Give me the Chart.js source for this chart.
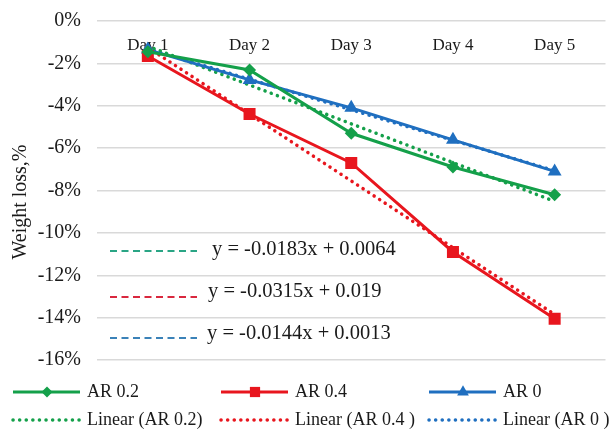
<!DOCTYPE html>
<html>
<head>
<meta charset="utf-8">
<script src="https://cdn.jsdelivr.net/npm/chart.js@4.4.1/dist/chart.umd.min.js"></script>
<style>
  html, body { margin: 0; padding: 0; background: #fff; }
</style>
</head>
<body>
<canvas id="chart" width="614" height="431"></canvas>
<script>
// Weight loss per day, values in %
const days = ['Day 1', 'Day 2', 'Day 3', 'Day 4', 'Day 5'];
const ar02 = [-1.45, -2.31, -5.3, -6.89, -8.2];
const ar04 = [-1.65, -4.39, -6.7, -10.9, -14.05];
const ar0 = [-1.35, -2.78, -4.1, -5.61, -7.1];
// linear trendlines
const trend02 = [-1.19, -3.02, -4.85, -6.68, -8.51];
const trend04 = [-1.25, -4.40, -7.55, -10.70, -13.85];
const trend0 = [-1.31, -2.75, -4.19, -5.63, -7.07];
const yMin = -16;
const yMax = 0;
const yStep = 2;
const equations = ['y = -0.0183x + 0.0064', 'y = -0.0315x + 0.019', 'y = -0.0144x + 0.0013'];
const yTitle = 'Weight loss,%';

const GREEN = '#14a04a';
const RED = '#e8161e';
const BLUE = '#1f6fc0';
const SERIF = '"Liberation Serif", "Times New Roman", serif';

function solid(label, data, color, style, radius) {
    return {
        label: label, data: data, borderColor: color, backgroundColor: color,
        borderWidth: 3, pointStyle: style, pointRadius: radius, pointBorderWidth: 0,
        pointBackgroundColor: color, tension: 0, order: 1
    };
}
function dotted(label, data, color) {
    return {
        label: label, data: data, borderColor: color, backgroundColor: color,
        borderWidth: 3.5, borderDash: [0.1, 6.5], borderCapStyle: 'round',
        pointRadius: 0, tension: 0, order: 2
    };
}

// equations text + legend drawn by hand (Excel style layout)
const overlay = {
    id: 'overlay',
    afterDraw(chart) {
        const ctx = chart.ctx;
        ctx.save();

        // y axis title
        ctx.save();
        ctx.translate(21, 202);
        ctx.rotate(-Math.PI / 2);
        ctx.font = '20px ' + SERIF;
        ctx.fillStyle = '#1a1a1a';
        ctx.textAlign = 'center';
        ctx.textBaseline = 'middle';
        ctx.fillText(yTitle, 0, 0);
        ctx.restore();

        // trendline equations
        const eqColors = ['#2aa585', '#d9283e', '#3b82b8'];
        const eqLineY = [251, 297, 338];
        const eqTextY = [250, 292, 334];
        const eqTextX = [212, 208, 207];
        ctx.lineWidth = 2;
        ctx.setLineDash([7, 4.5]);
        ctx.font = '20.5px ' + SERIF;
        ctx.textBaseline = 'middle';
        ctx.textAlign = 'left';
        for (let i = 0; i < equations.length; i++) {
            ctx.strokeStyle = eqColors[i];
            ctx.beginPath();
            ctx.moveTo(110, eqLineY[i]);
            ctx.lineTo(197, eqLineY[i]);
            ctx.stroke();
            ctx.fillStyle = '#1a1a1a';
            ctx.fillText(equations[i], eqTextX[i], eqTextY[i]);
        }
        ctx.setLineDash([]);

        // legend, 3 columns x 2 rows
        const colX = [13, 221, 429];
        const rowY = [392, 420];
        ctx.font = '18px ' + SERIF;
        chart.data.datasets.forEach((ds, i) => {
            const x = colX[i % 3];
            const y = rowY[Math.floor(i / 3)];
            ctx.strokeStyle = ds.borderColor;
            ctx.fillStyle = ds.borderColor;
            ctx.lineWidth = ds.borderWidth;
            ctx.lineCap = ds.borderCapStyle || 'butt';
            ctx.setLineDash(ds.borderDash || []);
            ctx.beginPath();
            ctx.moveTo(x, y);
            ctx.lineTo(x + 67, y);
            ctx.stroke();
            ctx.setLineDash([]);
            ctx.lineCap = 'butt';
            if (ds.pointRadius > 0) {
                Chart.helpers.drawPoint(ctx, {
                    pointStyle: ds.pointStyle, radius: ds.pointRadius * 0.85,
                    rotation: 0, borderWidth: 0
                }, x + 34, y);
            }
            ctx.fillStyle = '#1a1a1a';
            ctx.textBaseline = 'middle';
            ctx.fillText(ds.label, x + 74, y);
        });
        ctx.restore();
    }
};

new Chart(document.getElementById('chart'), {
    type: 'line',
    data: {
        labels: days,
        datasets: [
            solid('AR 0.2', ar02, GREEN, 'rectRot', 6.5),
            solid('AR 0.4', ar04, RED, 'rect', 8.5),
            solid('AR 0', ar0, BLUE, 'triangle', 8),
            dotted('Linear (AR 0.2)', trend02, GREEN),
            dotted('Linear (AR 0.4 )', trend04, RED),
            dotted('Linear (AR 0 )', trend0, BLUE)
        ]
    },
    options: {
        responsive: false,
        animation: false,
        devicePixelRatio: 1,
        layout: { padding: { top: 21, right: 6, bottom: 71, left: 0 } },
        plugins: {
            legend: { display: false },
            tooltip: { enabled: false }
        },
        scales: {
            x: {
                type: 'category',
                offset: true,
                position: { y: 0 },
                grid: { display: false },
                border: { display: false },
                ticks: {
                    color: '#1a1a1a',
                    padding: 6,
                    maxRotation: 0,
                    font: { family: SERIF, size: 17 }
                }
            },
            y: {
                min: yMin,
                max: yMax,
                grid: { color: '#d9d9d9', lineWidth: 1.5, drawTicks: false },
                border: { display: false },
                ticks: {
                    stepSize: yStep,
                    padding: 16,
                    color: '#1a1a1a',
                    font: { family: SERIF, size: 20 },
                    callback: v => v + '%'
                },
                afterFit: scale => {
                    scale.width = 97;
                    scale.paddingTop = 12;
                    scale.paddingBottom = 12;
                }
            }
        }
    },
    plugins: [overlay]
});
</script>
</body>
</html>
